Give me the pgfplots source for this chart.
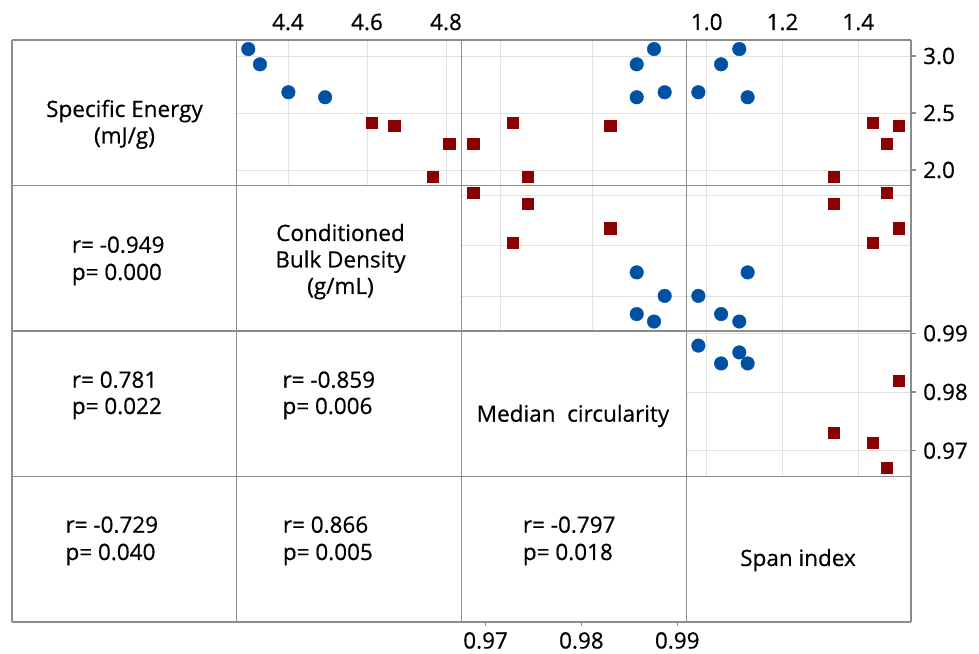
\documentclass[border=0pt]{standalone}
\usepackage{fontspec}
\setmainfont{Open Sans}[FakeBold=0.5]
\usepackage{pgfplots}
\usepackage{pgfplotstable}
\pgfplotsset{compat=1.18}
\definecolor{framec}{RGB}{140,140,140}
\definecolor{gridc}{RGB}{226,226,226}
\definecolor{mblue}{RGB}{0,80,164}
\definecolor{mred}{RGB}{139,0,0}

\pgfplotstableread{
SE BD circ span
3.061 4.2995 0.98674 1.086
2.927 4.329 0.98486 1.038
2.682 4.401 0.98790 0.978
2.638 4.494 0.98486 1.108
}\blueset
\pgfplotstableread{
SE BD circ span
2.412 4.612 0.97141 1.437
2.392 4.669 0.98198 1.507
2.228 4.808 0.96708 1.475
1.941 4.766 0.97305 1.336
}\redset

\newcommand\lfont{\fontsize{22.5}{27}\selectfont}

\pgfplotsset{
 cell/.style={scale only axis, width=224.75pt, height=145.5pt, anchor=south west,
   axis line style={draw=none}, grid=major, grid style={draw=gridc, line width=0.9pt},
   major tick length=0pt, xticklabels={,,}, yticklabels={,,},
   tick label style={font=\lfont},
 },
 bpts/.style={only marks, mark=*, mark size=6.8pt, mark options={draw=mblue, fill=mblue}},
 rpts/.style={only marks, mark=square*, mark size=5.6pt, mark options={draw=mred, fill=mred}},
 seY/.style={ymin=1.864, ymax=3.1404, ytick={2,2.5,3}},
 bdY/.style={ymin=4.262, ymax=4.838, ytick={4.4,4.6,4.8}},
 ciY/.style={ymin=0.9656, ymax=0.99039, ytick={0.97,0.98,0.99}},
 bdX/.style={xmin=4.2703, xmax=4.8392, xtick={4.4,4.6,4.8}},
 ciX/.style={xmin=0.965815, xmax=0.990245, xtick={0.97,0.98}},
 spX/.style={xmin=0.94604, xmax=1.53905, xtick={1.0,1.2,1.4}},
 toplab/.style={xticklabel pos=upper, xticklabel style={anchor=base, inner sep=0pt, yshift=10pt}},
}

\begin{document}
\begin{tikzpicture}
\path[use as bounding box] (0pt,0pt) rectangle (979pt,653pt);

% row 1: Specific Energy
\begin{axis}[cell, at={(236.75pt,467.5pt)}, bdX, seY, toplab, xticklabels={4.4,4.6,4.8}]
\addplot[bpts] table[x=BD, y=SE] {\blueset};
\addplot[rpts] table[x=BD, y=SE] {\redset};
\end{axis}
\begin{axis}[cell, at={(461.5pt,467.5pt)}, ciX, seY]
\addplot[bpts] table[x=circ, y=SE] {\blueset};
\addplot[rpts] table[x=circ, y=SE] {\redset};
\end{axis}
\begin{axis}[cell, at={(686.25pt,467.5pt)}, spX, seY, toplab, xticklabels={1.0,1.2,1.4}]
\addplot[bpts] table[x=span, y=SE] {\blueset};
\addplot[rpts] table[x=span, y=SE] {\redset};
\end{axis}
\begin{axis}[cell, at={(686.25pt,467.5pt)}, xmin=0, xmax=1, seY, xtick=\empty, grid=none,
  ytick pos=right, yticklabel pos=right, major tick length=5pt, tick align=outside,
  tick style={draw=framec, line width=1.3pt}, yticklabels={2.0,2.5,3.0},
  yticklabel style={anchor=west, inner sep=0pt, xshift=7pt}]
\end{axis}

% row 2: Bulk density
\begin{axis}[cell, at={(461.5pt,322pt)}, ciX, bdY]
\addplot[bpts] table[x=circ, y=BD] {\blueset};
\addplot[rpts] table[x=circ, y=BD] {\redset};
\end{axis}
\begin{axis}[cell, at={(686.25pt,322pt)}, spX, bdY]
\addplot[bpts] table[x=span, y=BD] {\blueset};
\addplot[rpts] table[x=span, y=BD] {\redset};
\end{axis}

% row 3: circularity
\begin{axis}[cell, at={(686.25pt,176.5pt)}, spX, ciY]
\addplot[bpts] table[x=span, y=circ] {\blueset};
\addplot[rpts] table[x=span, y=circ] {\redset};
\end{axis}
\begin{axis}[cell, at={(686.25pt,176.5pt)}, xmin=0, xmax=1, ciY, xtick=\empty, grid=none,
  ytick pos=right, yticklabel pos=right, major tick length=5pt, tick align=outside,
  tick style={draw=framec, line width=1.3pt}, yticklabels={0.97,0.98,0.99},
  yticklabel style={anchor=west, inner sep=0pt, xshift=7pt}]
\end{axis}

% row 4: bottom axis for circularity
\begin{axis}[cell, at={(461.5pt,31pt)}, xmin=0.96749, xmax=0.99094, ymin=0, ymax=1,
  ytick=\empty, grid=none, xtick={0.97,0.98,0.99}, xticklabels={0.97,0.98,0.99},
  xtick pos=lower, xticklabel pos=lower, major tick length=4pt, tick align=outside,
  tick style={draw=framec, line width=1.3pt},
  xticklabel style={anchor=north, inner sep=0pt, yshift=-6pt}]
\end{axis}

% frame
\foreach \x in {12,236.75,461.5,686.25,911}
  \draw[framec, line width=1.4pt] (\x pt,31pt) -- (\x pt,613pt);
\foreach \y in {31,176.5,322,467.5,613}
  \draw[framec, line width=1.4pt] (12pt,\y pt) -- (911pt,\y pt);

% diagonal labels
\begin{scope}[every node/.style={font=\lfont, inner sep=0pt}]
\node[anchor=base] at (124.5pt,536pt) {Specific Energy};
\node[anchor=base] at (124.5pt,509.5pt) {(mJ/g)};
\node[anchor=base] at (340.5pt,412pt) {Conditioned};
\node[anchor=base] at (340.5pt,385.5pt) {Bulk Density};
\node[anchor=base] at (340.5pt,359pt) {(g/mL)};
\node[anchor=base] at (573pt,231.3pt) {Median\ \ circularity};
\node[anchor=base] at (798pt,87pt) {Span index};
% correlations
\node[anchor=base west] at (71.7pt,400.3pt) {r= -0.949};
\node[anchor=base west] at (71.7pt,373pt) {p= 0.000};
\node[anchor=base west] at (71.7pt,265.3pt) {r= 0.781};
\node[anchor=base west] at (71.7pt,239pt) {p= 0.022};
\node[anchor=base west] at (282.3pt,265.3pt) {r= -0.859};
\node[anchor=base west] at (282.3pt,239pt) {p= 0.006};
\node[anchor=base west] at (65.3pt,120.3pt) {r= -0.729};
\node[anchor=base west] at (65.3pt,93pt) {p= 0.040};
\node[anchor=base west] at (282.7pt,120.3pt) {r= 0.866};
\node[anchor=base west] at (282.7pt,93pt) {p= 0.005};
\node[anchor=base west] at (522.7pt,120.3pt) {r= -0.797};
\node[anchor=base west] at (522.7pt,93pt) {p= 0.018};
\end{scope}
\end{tikzpicture}
\end{document}
